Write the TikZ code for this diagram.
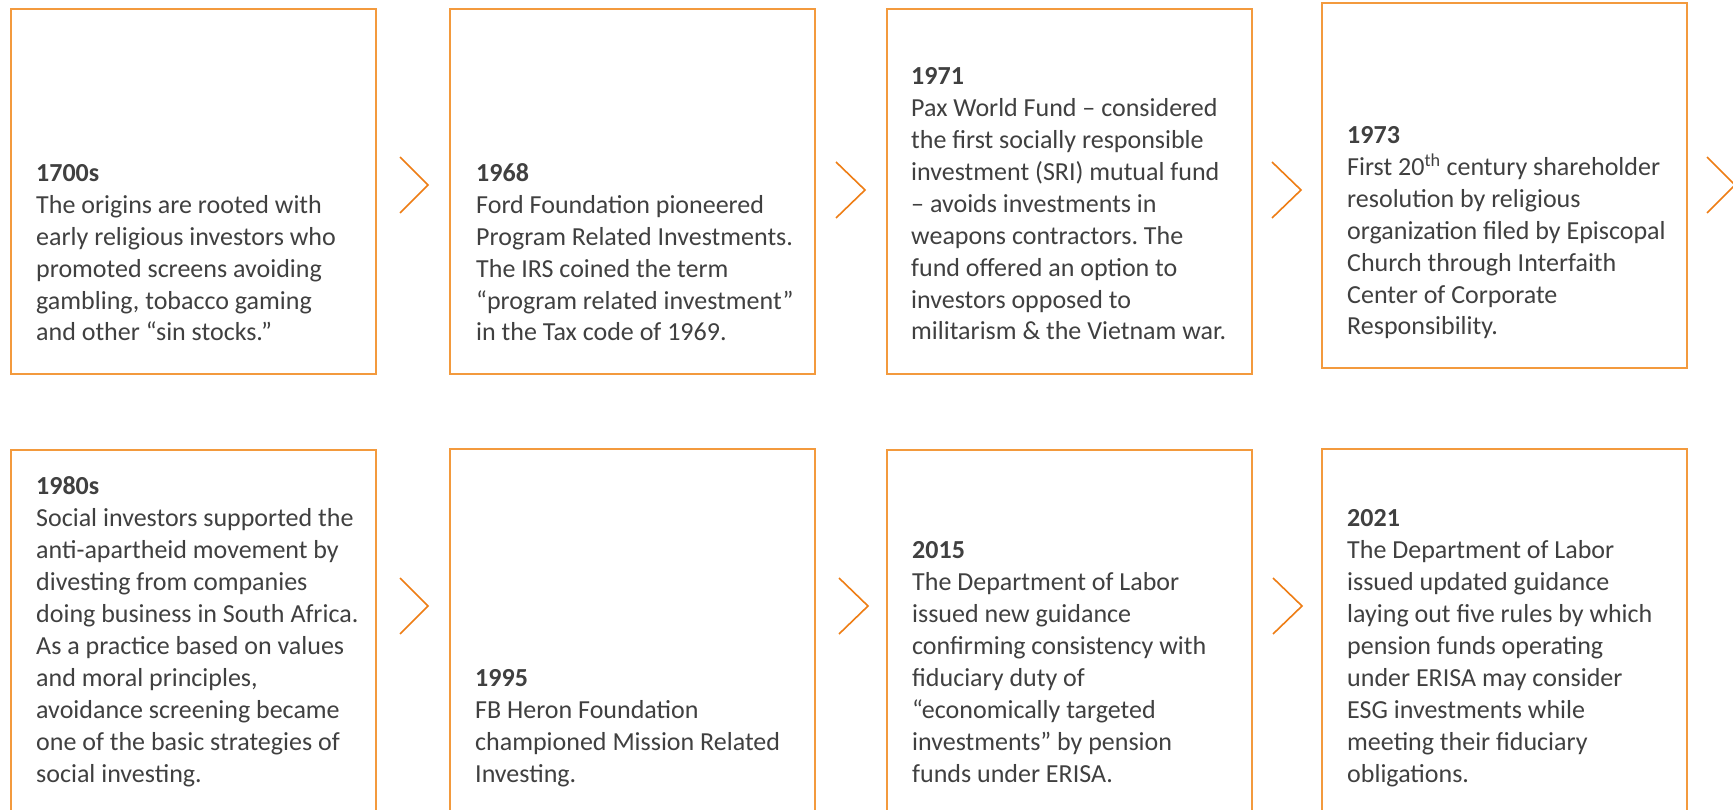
\documentclass[tikz,border=0pt]{standalone}
\usepackage{fontspec}
\setmainfont{Carlito}
\frenchspacing
\definecolor{frameorange}{HTML}{F39A3D}
\definecolor{chevorange}{HTML}{EE7D14}
\definecolor{bodygray}{HTML}{404040}
% stack of left-aligned lines; the box baseline is the last line's baseline
\newcommand\linestack[1]{\vbox{\baselineskip=31.9pt\lineskiplimit=-100pt\lineskip=0pt
  \halign{##\hfil\cr#1\crcr}}}
\tikzset{
  stepbox/.style={draw=frameorange, line width=1.6pt, minimum width=365pt,
    minimum height=365pt, anchor=north west, inner sep=0pt},
  entrytext/.style={anchor=base west, inner sep=0pt, text=bodygray,
    font=\fontsize{26}{31.9}\selectfont},
  chevron/.style={draw=chevorange, line width=1.6pt}
}
\begin{document}
\begin{tikzpicture}[x=1pt,y=-1pt]
\useasboundingbox (0,0) rectangle (1733,810);
\clip (0,0) rectangle (1733,810);
\fill[white] (0,0) rectangle (1733,810);

% frames, upper row
\node[stepbox] (b1) at (10,8) {};
\node[stepbox] (b2) at (449,8) {};
\node[stepbox] (b3) at (886,8) {};
\node[stepbox] (b4) at (1321,2) {};
% frames, lower row (run past the bottom edge)
\node[stepbox] (b5) at (10,449) {};
\node[stepbox] (b6) at (449,448) {};
\node[stepbox] (b7) at (886,449) {};
\node[stepbox] (b8) at (1321,448) {};

% chevrons between frames
\draw[chevron] (400,157) -- (428,185) -- (400,213);
\draw[chevron] (836,162) -- (865,190) -- (836,218);
\draw[chevron] (1272,162) -- (1301,190) -- (1272,218);
\draw[chevron] (1707,157) -- (1735,185) -- (1707,213);
\draw[chevron] (400,578) -- (428,606) -- (400,634);
\draw[chevron] (839,578) -- (868,606) -- (839,634);
\draw[chevron] (1273,578) -- (1302,606) -- (1273,634);

% entries
\node[entrytext] (t1) at (36,341) {\linestack{\textbf{1700s}\cr
The origins are rooted with\cr
early religious investors who\cr
promoted screens avoiding\cr
gambling, tobacco gaming\cr
and other “sin stocks.”}};

\node[entrytext] (t2) at (476,341) {\linestack{\textbf{1968}\cr
Ford Foundation pioneered\cr
Program Related Investments.\cr
The IRS coined the term\cr
“program related investment”\cr
in the Tax code of 1969.}};

\node[entrytext] (t3) at (911,340) {\linestack{\textbf{1971}\cr
Pax World Fund – considered\cr
the first socially responsible\cr
investment (SRI) mutual fund\cr
– avoids investments in\cr
weapons contractors. The\cr
fund offered an option to\cr
investors opposed to\cr
militarism \& the Vietnam war.}};

\node[entrytext] (t4) at (1347,335) {\linestack{\textbf{1973}\cr
First 20\textsuperscript{th} century shareholder\cr
resolution by religious\cr
organization filed by Episcopal\cr
Church through Interfaith\cr
Center of Corporate\cr
Responsibility.}};

\node[entrytext] (t5) at (36,782) {\linestack{\textbf{1980s}\cr
Social investors supported the\cr
anti-apartheid movement by\cr
divesting from companies\cr
doing business in South Africa.\cr
As a practice based on values\cr
and moral principles,\cr
avoidance screening became\cr
one of the basic strategies of\cr
social investing.}};

\node[entrytext] (t6) at (475,782) {\linestack{\textbf{1995}\cr
FB Heron Foundation\cr
championed Mission Related\cr
Investing.}};

\node[entrytext] (t7) at (912,782) {\linestack{\textbf{2015}\cr
The Department of Labor\cr
issued new guidance\cr
confirming consistency with\cr
fiduciary duty of\cr
“economically targeted\cr
investments” by pension\cr
funds under ERISA.}};

\node[entrytext] (t8) at (1347,782) {\linestack{\textbf{2021}\cr
The Department of Labor\cr
issued updated guidance\cr
laying out five rules by which\cr
pension funds operating\cr
under ERISA may consider\cr
ESG investments while\cr
meeting their fiduciary\cr
obligations.}};
\end{tikzpicture}
\end{document}
